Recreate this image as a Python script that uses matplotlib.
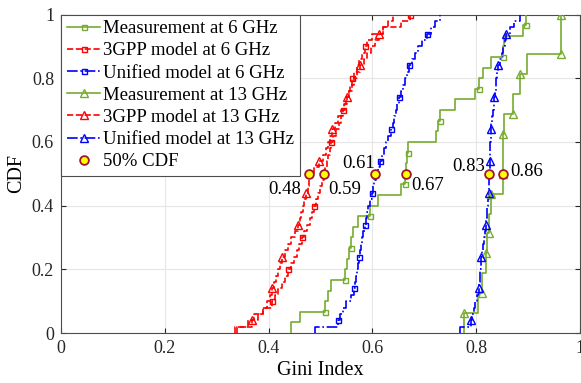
import numpy as np
import matplotlib
matplotlib.use('Agg')
import matplotlib.pyplot as plt
from matplotlib.lines import Line2D

plt.rcParams['font.family'] = ['Liberation Serif', 'DejaVu Serif']

# ---------------- data (sorted samples) ----------------
series_labels = ['Measurement at 6 GHz', '3GPP model at 6 GHz', 'Unified model at 6 GHz',
                 'Measurement at 13 GHz', '3GPP model at 13 GHz', 'Unified model at 13 GHz',
                 '50% CDF']

meas_6ghz = [0.443, 0.461, 0.509, 0.515, 0.521, 0.547, 0.551, 0.555, 0.559, 0.5635,
             0.573, 0.596, 0.611, 0.656, 0.662, 0.665, 0.667, 0.669, 0.723, 0.727,
             0.730, 0.759, 0.797, 0.805, 0.813, 0.829, 0.852, 0.853, 0.890, 0.896]

gpp_6ghz = [0.340, 0.360, 0.372, 0.390, 0.406, 0.413, 0.419, 0.425, 0.431, 0.437,
            0.443, 0.449, 0.454, 0.459, 0.464, 0.469, 0.474, 0.479, 0.483, 0.487,
            0.491, 0.495, 0.499, 0.503, 0.506, 0.509, 0.512, 0.515, 0.518, 0.521,
            0.525, 0.530, 0.535, 0.539, 0.543, 0.547, 0.550, 0.554, 0.557, 0.560,
            0.565, 0.570, 0.575, 0.580, 0.585, 0.590, 0.600, 0.620, 0.655, 0.672]

uni_6ghz = [0.490, 0.533, 0.538, 0.544, 0.550, 0.558, 0.565, 0.567, 0.569, 0.571,
            0.573, 0.575, 0.577, 0.578, 0.580, 0.582, 0.585, 0.587, 0.589, 0.592,
            0.595, 0.599, 0.601, 0.604, 0.607, 0.611, 0.615, 0.619, 0.622, 0.626,
            0.630, 0.636, 0.639, 0.642, 0.645, 0.648, 0.652, 0.655, 0.658, 0.662,
            0.666, 0.671, 0.676, 0.682, 0.688, 0.695, 0.705, 0.712, 0.720, 0.730]

meas_13ghz = [0.777, 0.803, 0.812, 0.818, 0.821, 0.824, 0.829, 0.851, 0.851, 0.852,
              0.853, 0.871, 0.884, 0.897, 0.963, 0.964]

gpp_13ghz = [0.335, 0.368, 0.380, 0.390, 0.397, 0.402, 0.406, 0.410, 0.414, 0.418,
             0.422, 0.426, 0.432, 0.438, 0.444, 0.450, 0.456, 0.460, 0.463, 0.466,
             0.469, 0.472, 0.475, 0.477, 0.479, 0.488, 0.498, 0.504, 0.510, 0.514,
             0.518, 0.522, 0.528, 0.534, 0.539, 0.545, 0.551, 0.555, 0.560, 0.565,
             0.571, 0.577, 0.583, 0.590, 0.598, 0.605, 0.612, 0.620, 0.630, 0.640]

uni_13ghz = [0.768, 0.790, 0.792, 0.795, 0.798, 0.802, 0.805, 0.806, 0.807, 0.808,
             0.809, 0.810, 0.812, 0.814, 0.815, 0.817, 0.818, 0.819, 0.820, 0.821,
             0.823, 0.824, 0.824, 0.825, 0.825, 0.826, 0.826, 0.827, 0.827, 0.827,
             0.828, 0.828, 0.829, 0.831, 0.832, 0.834, 0.835, 0.836, 0.838, 0.839,
             0.841, 0.842, 0.845, 0.849, 0.852, 0.855, 0.858, 0.865, 0.873, 0.884]

median_x = [0.478, 0.506, 0.605, 0.665, 0.825, 0.851]
median_labels = ['0.48', '0.59', '0.61', '0.67', '0.83', '0.86']
median_cdf = 0.5

tick_values = [0, 0.2, 0.4, 0.6, 0.8, 1.0]
tick_labels = ['0', '0.2', '0.4', '0.6', '0.8', '1']

# ---------------- styles ----------------
GREEN = '#77AC30'
RED = '#FF0000'
BLUE = '#0000FF'
styles = [
    dict(color=GREEN, ls='-', marker='s', ms=3.6, mstart=4, mstep=6),
    dict(color=RED, ls='--', marker='s', ms=3.6, mstart=9, mstep=10),
    dict(color=BLUE, ls='-.', marker='s', ms=3.6, mstart=3, mstep=10),
    dict(color=GREEN, ls='-', marker='^', ms=6.0, mstart=1, mstep=3),
    dict(color=RED, ls='--', marker='^', ms=6.0, mstart=3, mstep=10),
    dict(color=BLUE, ls='-.', marker='^', ms=6.0, mstart=3, mstep=10),
]
text_offsets = [(-17.8, -11.3), (15.1, -11.3), (-12, 7.4), (15.3, -8.4), (-15.1, 5), (17, 1.4)]


def stair_vertices(samples):
    x = np.sort(np.asarray(samples, dtype=float))
    n = len(x)
    xs = np.repeat(x, 2)
    ys = np.empty(2 * n)
    ys[0::2] = np.arange(n) / n
    ys[1::2] = np.arange(1, n + 1) / n
    return xs, ys


fig = plt.figure(figsize=(5.81, 3.83), dpi=100)
ax = fig.add_axes([61 / 581, 50 / 383, 519 / 581, 318.5 / 383])

LW = 1.2
handles = []
all_series = [meas_6ghz, gpp_6ghz, uni_6ghz, meas_13ghz, gpp_13ghz, uni_13ghz]
for data, st, lab in zip(all_series, styles, series_labels):
    xs, ys = stair_vertices(data)
    ax.plot(xs, ys, color=st['color'], ls=st['ls'], lw=LW, zorder=3)
    ax.plot(xs[st['mstart']::st['mstep']], ys[st['mstart']::st['mstep']],
            ls='none', marker=st['marker'], ms=st['ms'], mfc='none',
            mec=st['color'], mew=1.0, zorder=4)
    handles.append(Line2D([], [], color=st['color'], ls=st['ls'], lw=LW,
                          marker=st['marker'], ms=st['ms'], mfc='none',
                          mec=st['color'], mew=1.0))

med_y = [median_cdf] * len(median_x)
ax.plot(median_x, med_y, ls='none', marker='o', ms=6.3, mfc='#FFFF00',
        mec='#A2142F', mew=1.3, zorder=6)
handles.append(Line2D([], [], ls='none', marker='o', ms=6.3, mfc='#FFFF00',
                      mec='#A2142F', mew=1.3))

for xv, lab, off in zip(median_x, median_labels, text_offsets):
    ax.annotate(lab, (xv, median_cdf), xytext=off, textcoords='offset points',
                ha='center', va='center', fontsize=13.5, zorder=7)

ax.set_xlim(0, 1)
ax.set_ylim(0, 1)
ax.set_xticks(tick_values, tick_labels)
ax.set_yticks(tick_values, tick_labels)
ax.tick_params(direction='in', length=3.5, width=0.8, top=True, right=True,
               labelsize=13, colors='0.15', pad=5)
ax.grid(True, color='#e6e6e6', lw=0.8)
ax.set_axisbelow(True)
for sp in ax.spines.values():
    sp.set_color('0.3')
    sp.set_linewidth(0.8)

ax.set_xlabel('Gini Index', fontsize=14.5, labelpad=3)
ax.set_ylabel('CDF', fontsize=14.5, labelpad=4)

leg = ax.legend(handles, series_labels, loc='upper left', bbox_to_anchor=(0, 1),
                borderaxespad=0, fancybox=False, edgecolor='0.3', framealpha=1,
                fontsize=13.5, handlelength=1.8, handletextpad=0.15,
                labelspacing=0.27, borderpad=0.3, numpoints=1)
leg.get_frame().set_linewidth(0.8)
leg.set_zorder(10)

fig.savefig('out.png', dpi=100)
